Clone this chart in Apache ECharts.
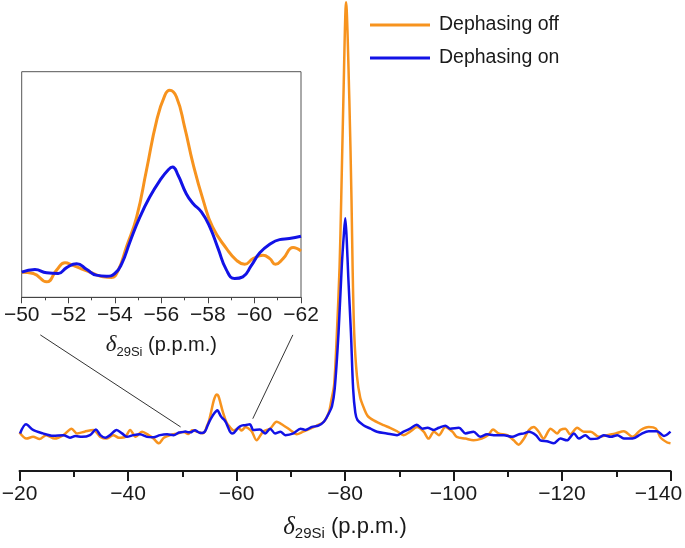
<!DOCTYPE html>
<html><head><meta charset="utf-8">
<script src="https://cdn.jsdelivr.net/npm/echarts@6/dist/echarts.min.js"></script>
<style>html,body{margin:0;padding:0;background:#fff}#c{width:685px;height:548px}</style>
</head><body><div id="c"></div>
<script>
// ---- Dephasing off (orange), main spectrum, left of inset region ----
const offLeftPpm = [-20, -21.3, -22.5, -23.7, -24.9, -26.5, -28.1, -29.6, -30.6, -32, -33.6, -34.9, -36.1, -37.3, -38.3, -39.5, -40.4, -41.4, -42.6, -43.8, -44.7, -45.7, -46.6, -47.8, -49.2];
const offLeftVal = [-0.1, -1.5, -1.1, -1.6, -0.7, -1.5, -0.7, 0.8, -0.3, 0.1, 0.5, -1.1, -1.5, -0.7, -1.3, -1.1, 0.5, -1.1, 0.1, -0.7, -1.5, -2.6, -1.3, -0.7, -0.3];
// ---- inset region (-50 .. -62) ----
const insetOffPpm = [-50, -50.5, -51.07, -51.5, -51.86, -52.2, -52.65, -53.07, -53.5, -53.86, -54.15, -54.5, -54.94, -55.36, -55.8, -56.15, -56.36, -56.65, -57, -57.36, -57.8, -58.2, -58.8, -59.23, -59.58, -59.94, -60.37, -60.66, -60.9, -61.23, -61.66, -62];
const insetOffVal = [0, -0.06, -0.46, 0.1, 0.45, 0.33, 0.13, -0.06, -0.22, -0.25, 0.1, 1.21, 2.65, 4.88, 7.27, 8.47, 8.71, 8.39, 6.95, 5.2, 3.44, 2.17, 1.13, 0.57, 0.38, 0.65, 0.81, 0.65, 0.38, 0.65, 1.18, 1.02];
// ---- main spectrum, right of inset region ----
const offRightPpm = [-62.8, -63.7, -64.9, -66.2, -67.4, -68.6, -69.9, -71.1, -72.3, -73.6, -74.8, -76.1, -77, -77.5, -78, -78.5, -79, -79.3, -79.7, -80.2, -80.8, -81.2, -81.4, -81.7, -82.2, -82.8, -83.5, -84.2, -85.3, -87.1, -88.3, -89.6, -90.8, -92, -93.3, -94.5, -95.4, -96.4, -97.3, -98.5, -99.8, -100.6, -102.2, -103.7, -105.2, -106.4, -107.3, -108.3, -109.9, -111.1, -112, -113, -113.9, -114.8, -115.7, -116.6, -117.9, -119.1, -119.7, -120.6, -121.5, -122.8, -124, -125.3, -126.8, -128.3, -129.9, -131.4, -133, -134.5, -136, -137.3, -138.2, -139.4, -140];
const offRightVal = [0.2, -1.9, 0.1, 0.8, 2.4, 1.6, 0.5, -0.5, 0.1, 0.8, 1.5, 2.4, 4.5, 7.5, 11, 22.8, 38.3, 53.7, 76.9, 99.5, 76.9, 53.7, 38.3, 22.8, 13, 8, 5.5, 3.7, 2.7, 1.6, 1, 0.2, -0.7, 0.1, 1.2, 0.1, -1.5, 0.1, -0.7, 1.2, 0.1, -1.1, -1.5, -1.9, -1.5, -0.7, 0.6, -0.3, -0.7, -1.9, -2.9, -1.5, 0.5, 1.2, 0.1, -1.5, 0.8, -0.3, 0.5, 0.8, -0.5, 1, 0.1, 0.1, -1.1, -0.7, -0.3, 0.2, -1.1, 0.5, 1.2, 0.8, -1.3, -2.4, -2.6];

// ---- Dephasing on (blue) ----
const onLeftPpm = [-20.1, -21.2, -22.5, -24.3, -26.2, -28.1, -29.3, -30.3, -31.5, -33, -34.1, -34.9, -35.8, -36.7, -37.9, -38.9, -39.8, -41, -42.2, -43.5, -44.7, -45.9, -47.2, -48.4, -49.4];
const onLeftVal = [-0.3, 1.8, 0.5, -0.3, -0.85, -0.7, -1.3, -0.9, -1.1, -0.7, 0.6, -0.7, -1.3, -0.7, 0.5, -0.3, -1.1, -0.7, -0.5, -1.1, -1.2, -0.7, -0.5, -0.7, -0.1];
const insetOnPpm = [-50, -50.57, -51.07, -51.57, -51.93, -52.36, -52.8, -53.2, -53.64, -54, -54.3, -54.65, -55.08, -55.5, -55.94, -56.3, -56.48, -56.72, -57.07, -57.36, -57.72, -58.08, -58.44, -58.8, -59.15, -59.5, -59.87, -60.23, -60.66, -61.08, -61.5, -62];
const insetOnVal = [0, 0.13, -0.03, -0.06, 0.22, 0.41, 0.13, -0.14, -0.19, -0.06, 0.41, 1.45, 2.65, 3.6, 4.4, 4.91, 5.04, 4.64, 3.76, 3.29, 2.89, 2.17, 1.13, 0.1, -0.3, -0.22, 0.33, 0.93, 1.34, 1.56, 1.61, 1.72];
const onRightPpm = [-62.5, -63.1, -64.3, -65.3, -66.2, -67.1, -68.1, -69, -70.5, -71.8, -72.7, -73.9, -75.1, -76.1, -77, -77.6, -78.1, -78.8, -79.4, -79.8, -80.05, -80.3, -80.6, -81.1, -81.5, -81.9, -82.3, -83.4, -84.7, -85.9, -87.7, -89.6, -90.8, -92, -93.2, -94.3, -95.2, -96.4, -97.3, -98.5, -99.4, -101, -102.2, -103.7, -104.9, -106.2, -107.4, -109.3, -110.8, -112.1, -113, -113.9, -115.2, -116, -117.2, -118.5, -119.7, -120.9, -122.2, -123.1, -124.3, -125.3, -126.5, -127.7, -129, -130.2, -131.4, -133, -134.5, -136, -137.5, -138.8, -140];
const onRightVal = [1.8, 0.5, 0.6, -0.3, 0.8, -0.3, 0.1, -0.7, -0.3, 0.8, 0.5, 1.2, 1.5, 2.4, 4.3, 6, 10, 22.8, 38.3, 46, 49.5, 45, 36, 22.8, 10, 4.5, 2.8, 1.6, 0.8, 0.1, -0.3, -0.7, 0.1, 0.8, 1.7, 0.8, 1, 0.5, 1, 1.5, 0.8, 1, -0.3, 0.1, -1.1, -0.5, -0.7, -0.7, -1.1, -0.5, -0.3, 0.1, -0.7, -1.9, -2.1, -2.6, -1.5, -1.9, -0.3, -1.5, -0.7, -1.6, -1.5, -0.7, -1.1, -0.7, -1.5, -1.5, -0.5, 0.2, 0.2, -0.9, 0.1];

// ---- axes ----
const mainTicks = [-140, -120, -100, -80, -60, -40, -20];
const insetTicks = [-62, -60, -58, -56, -54, -52, -50];
const seriesNames = ['Dephasing off', 'Dephasing on'];

// ---- connector anchors (inset grid -> main grid, in data units) ----
const connInsetPpm = [-50.8, -61.65];
const connInsetVal = [-3.0, -3.0];
const connMainPpm = [-49.7, -63.0];
const connMainVal = [1.2, 3.1];

const ORANGE = '#F7931E';
const BLUE = '#1212E6';
const INK = '#1a1a1a';
const FONT = '"Liberation Sans", Arial, Helvetica, sans-serif';

const zip = (xs, ys) => xs.map((x, i) => [x, ys[i]]);
const mainOff = zip(offLeftPpm.concat(insetOffPpm, offRightPpm), offLeftVal.concat(insetOffVal, offRightVal));
const mainOn = zip(onLeftPpm.concat(insetOnPpm, onRightPpm), onLeftVal.concat(insetOnVal, onRightVal));
const insOff = zip(insetOffPpm, insetOffVal);
const insOn = zip(insetOnPpm, insetOnVal);

const fmt = v => v < 0 ? '\u2212' + Math.abs(v) : String(v);
const mainFmt = v => v === mainTicks[0] ? '{e|' + fmt(v) + '}' : fmt(v);
const nameRich = (fs) => ({
  d: { fontFamily: '"Liberation Serif", "Times New Roman", serif', fontStyle: 'italic', fontSize: fs + 3, lineHeight: 28, verticalAlign: 'middle', color: INK },
  s: { fontFamily: FONT, fontSize: Math.round(fs * 0.66), lineHeight: 15, verticalAlign: 'bottom', color: INK },
  t: { fontFamily: FONT, fontSize: fs, lineHeight: 28, verticalAlign: 'middle', color: INK }
});
const axisName = '{d|\u03B4}{s|29Si}{t| (p.p.m.)}';

const chart = echarts.init(document.getElementById('c'), null, { renderer: 'canvas' });
chart.setOption({
  animation: false,
  backgroundColor: '#fff',
  grid: [
    { left: 19.5, right: 14.5, top: 0, bottom: 77, outerBoundsMode: 'none', containLabel: false },
    { left: 21.7, right: 384, top: 71.7, bottom: 250.7, outerBoundsMode: 'none', containLabel: false, show: true, borderColor: '#555', borderWidth: 1, backgroundColor: 'transparent' }
  ],
  legend: {
    orient: 'vertical', left: 370, top: 15, padding: 0, itemWidth: 60, itemHeight: 3, itemGap: 13, icon: 'rect',
    data: seriesNames,
    textStyle: { fontSize: 19.5, color: INK, fontFamily: FONT, padding: [0, 0, 0, 4] }
  },
  xAxis: [
    {
      gridIndex: 0, type: 'value', inverse: true, min: mainTicks[0], max: mainTicks[mainTicks.length - 1], interval: 20,
      axisLine: { onZero: false, lineStyle: { color: INK, width: 2 } },
      axisTick: { length: 10, lineStyle: { color: INK, width: 2 } },
      minorTick: { show: true, splitNumber: 2, length: 6, lineStyle: { color: INK, width: 2 } },
      splitLine: { show: false },
      axisLabel: {
        formatter: mainFmt, fontSize: 21, color: INK, fontFamily: FONT, margin: 13,
        rich: { e: { fontSize: 21, color: INK, fontFamily: FONT, padding: [0, 24, 0, 0] } }
      },
      name: axisName, nameLocation: 'middle', nameGap: 42,
      nameTextStyle: { fontSize: 22, fontFamily: FONT, color: INK, rich: nameRich(22) }
    },
    {
      gridIndex: 1, type: 'value', inverse: true, min: insetTicks[0], max: insetTicks[insetTicks.length - 1], interval: 2,
      axisLine: { onZero: false, lineStyle: { color: '#444', width: 1 } },
      axisTick: { length: 6, lineStyle: { color: '#444', width: 1 } },
      minorTick: { show: true, splitNumber: 2, length: 3, lineStyle: { color: '#444', width: 1 } },
      splitLine: { show: false },
      axisLabel: { formatter: fmt, fontSize: 21, color: INK, fontFamily: FONT, margin: 7 },
      name: axisName, nameLocation: 'middle', nameGap: 34,
      nameTextStyle: { fontSize: 20, fontFamily: FONT, color: INK, rich: nameRich(20) }
    }
  ],
  yAxis: [
    { gridIndex: 0, type: 'value', min: -9, max: 100, show: false },
    { gridIndex: 1, type: 'value', min: -1.2, max: 9.6, show: false }
  ],
  series: [
    { name: seriesNames[0], type: 'line', xAxisIndex: 0, yAxisIndex: 0, data: mainOff, showSymbol: false, smooth: 0.3, lineStyle: { color: ORANGE, width: 2.5 }, itemStyle: { color: ORANGE } },
    { name: seriesNames[1], type: 'line', xAxisIndex: 0, yAxisIndex: 0, data: mainOn, showSymbol: false, smooth: 0.3, lineStyle: { color: BLUE, width: 2.5 }, itemStyle: { color: BLUE } },
    { name: seriesNames[0], type: 'line', xAxisIndex: 1, yAxisIndex: 1, data: insOff, showSymbol: false, smooth: 0.5, lineStyle: { color: ORANGE, width: 3 }, itemStyle: { color: ORANGE } },
    { name: seriesNames[1], type: 'line', xAxisIndex: 1, yAxisIndex: 1, data: insOn, showSymbol: false, smooth: 0.5, lineStyle: { color: BLUE, width: 3 }, itemStyle: { color: BLUE } }
  ]
});

const graphics = connInsetPpm.map((p, i) => {
  const a = chart.convertToPixel({ gridIndex: 1 }, [p, connInsetVal[i]]);
  const b = chart.convertToPixel({ gridIndex: 0 }, [connMainPpm[i], connMainVal[i]]);
  return { type: 'line', shape: { x1: a[0], y1: a[1], x2: b[0], y2: b[1] }, style: { stroke: '#333', lineWidth: 1 }, silent: true };
});
chart.setOption({ graphic: graphics });
</script>
</body></html>
